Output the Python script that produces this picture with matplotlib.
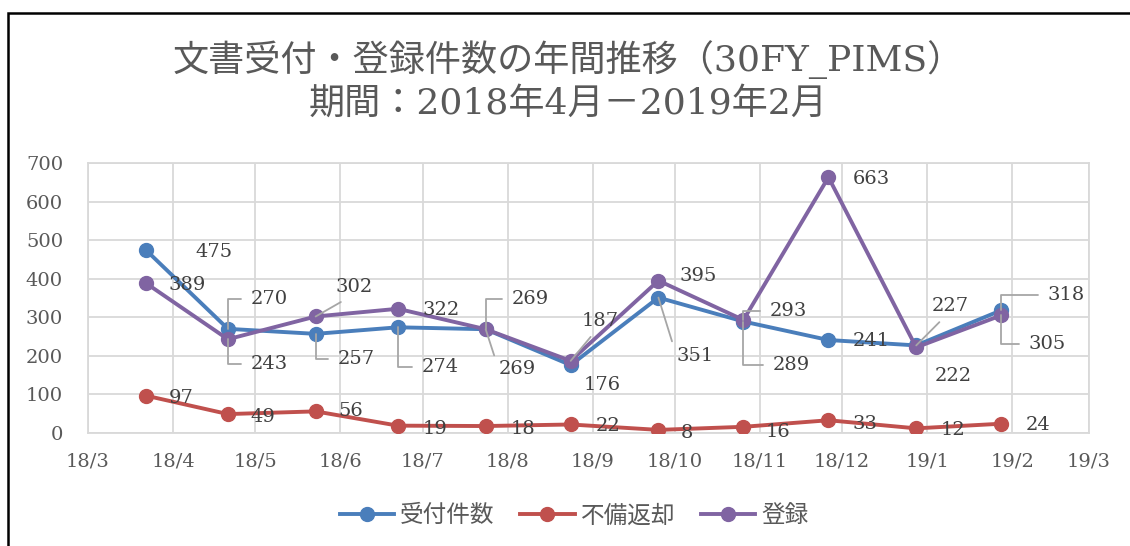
import matplotlib
matplotlib.use('Agg')
import matplotlib.pyplot as plt
import matplotlib.dates as mdates
import pandas as pd
from matplotlib.patches import Rectangle

dates = ['2018-03-22', '2018-04-21', '2018-05-23', '2018-06-22', '2018-07-24', '2018-08-24',
         '2018-09-25', '2018-10-26', '2018-11-26', '2018-12-28', '2019-01-28']
uketsuke = [475, 270, 257, 274, 269, 176, 351, 289, 241, 227, 318]
fubi = [97, 49, 56, 19, 18, 22, 8, 16, 33, 12, 24]
touroku = [389, 243, 302, 322, 269, 187, 395, 293, 663, 222, 305]
names = ['受付件数', '不備返却', '登録']

x = pd.to_datetime(dates)

# label offsets in pixels (dx, dy up) and leader style
off_blue = [(50, -2), (23, 30), (22, -25), (24, -40), (26, 30), (13, -20),
            (18, -58), (29, -43), (24, -1), (15, 39), (46, 15)]
lead_blue = [None, 'elbow', 'elbow', 'elbow', 'elbow', None, 'line', 'elbow', None, 'line', 'elbow']
off_red = [(23, -2), (23, -3), (23, 0), (25, -3), (25, -3), (25, -2),
           (22, -3), (22, -5), (24, -4), (24, -2), (24, -1)]
lead_red = [None] * 11
off_pur = [(23, -2), (23, -25), (20, 29), (25, -1), (13, -40), (11, 40),
           (21, 5), (26, 9), (24, -2), (18, -29), (27, -29)]
lead_pur = [None, 'elbow', 'line', None, 'line', 'line', None, 'elbow', None, None, 'elbow']

colors = ['#4a7ebb', '#c0504d', '#8064a2']
txtc = '#595959'
gridc = '#d9d9d9'
serif = ['DejaVu Serif', 'Noto Sans CJK JP']
cjk = ['Noto Sans CJK JP', 'DejaVu Sans']

fig = plt.figure(figsize=(11.3, 5.46), dpi=100)
ax = fig.add_axes([0.0779, 0.2070, 0.8858, 0.4945])

for vals, c, nm, offs, leads in [(uketsuke, colors[0], names[0], off_blue, lead_blue),
                                 (fubi, colors[1], names[1], off_red, lead_red),
                                 (touroku, colors[2], names[2], off_pur, lead_pur)]:
    ax.plot(x, vals, color=c, lw=2.8, marker='o', ms=10, label=nm, zorder=3)
    for xi, v, o, ld in zip(x, vals, offs, leads):
        kw = {}
        if ld == 'elbow':
            kw['arrowprops'] = dict(arrowstyle='-', color='#a6a6a6', lw=1.3,
                                    connectionstyle='angle,angleA=0,angleB=90,rad=0',
                                    relpos=(0, 0.5), shrinkA=5, shrinkB=0)
        elif ld == 'line':
            kw['arrowprops'] = dict(arrowstyle='-', color='#a6a6a6', lw=1.3,
                                    relpos=(0, 0.5) if o[1] < 0 else (0.4, 0),
                                    shrinkA=4, shrinkB=0)
        ax.annotate(str(v), xy=(xi, v), xytext=o, textcoords='offset pixels',
                    ha='left', va='center', fontsize=14, color='#404040',
                    family=serif, zorder=4, **kw)

ax.set_xlim(pd.Timestamp('2018-03-01'), pd.Timestamp('2019-03-01'))
ax.set_ylim(0, 700)
ax.set_yticks(range(0, 701, 100))
ax.xaxis.set_major_locator(mdates.MonthLocator())
ax.xaxis.set_major_formatter(plt.FuncFormatter(
    lambda v, p: '%d/%d' % (mdates.num2date(v).year % 100, mdates.num2date(v).month)))
ax.grid(True, color=gridc, lw=1.3, zorder=0)
for s in ax.spines.values():
    s.set_color(gridc)
    s.set_linewidth(1.3)
ax.tick_params(axis='both', length=0, labelsize=14, labelcolor=txtc)
ax.tick_params(axis='y', pad=18)
ax.tick_params(axis='x', pad=14)
for lab in ax.get_xticklabels() + ax.get_yticklabels():
    lab.set_family(serif)

fig.text(0.503, 1 - 60 / 546, '文書受付・登録件数の年間推移（30FY_PIMS）', ha='center', va='center',
         fontsize=26, color=txtc, family=serif)
fig.text(0.503, 1 - 104 / 546, '期間：2018年4月－2019年2月', ha='center', va='center',
         fontsize=26, color=txtc, family=serif)

leg = fig.legend(loc='center', bbox_to_anchor=(0.508, 1 - 516 / 546), ncol=3, frameon=False,
                 prop={'family': cjk, 'size': 17}, handlelength=2.3, columnspacing=1.1,
                 handletextpad=0.25)
for t in leg.get_texts():
    t.set_color(txtc)

fig.patches.append(Rectangle((7.5 / 1130, -0.05), 1.1, 1 - 12.5 / 546 + 0.05,
                             transform=fig.transFigure, fill=False, ec='black', lw=1.8))

fig.savefig('out.png', dpi=100)
